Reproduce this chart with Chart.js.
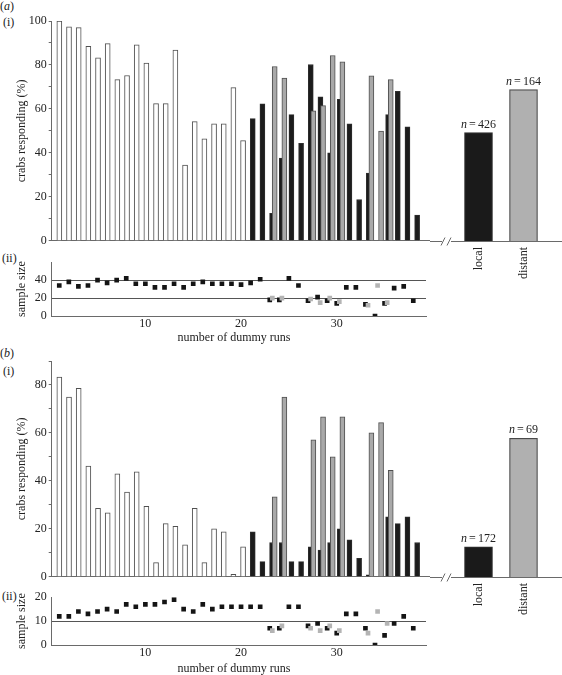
<!DOCTYPE html>
<html>
<head>
<meta charset="utf-8">
<script src="https://cdn.jsdelivr.net/npm/chart.js@4.4.1/dist/chart.umd.min.js"></script>
<style>
body{margin:0;background:#fff;width:562px;height:675px;position:relative;overflow:hidden;font-family:"Liberation Serif",serif;color:#222}
canvas{position:absolute}
.lab{position:absolute;font-size:12px;line-height:12px;white-space:nowrap}
.xt{position:absolute;left:134px;width:200px;text-align:center;font-size:12px;line-height:12px}
</style>
</head>
<body>
<div class="lab" style="left:0;top:0">(<i>a</i>)</div>
<div class="lab" style="left:3px;top:16px">(i)</div>
<div class="lab" style="left:2px;top:252px">(ii)</div>
<div class="lab" style="left:0;top:347px">(<i>b</i>)</div>
<div class="lab" style="left:3px;top:365px">(i)</div>
<div class="lab" style="left:2px;top:590px">(ii)</div>

<canvas id="barsA" style="left:0;top:0" width="430" height="250"></canvas>
<canvas id="sideA" style="left:430px;top:0" width="132" height="286"></canvas>
<canvas id="dotsA" style="left:0;top:250px" width="430" height="96"></canvas>
<div class="xt" style="top:331px">number of dummy runs</div>

<canvas id="barsB" style="left:0;top:340px" width="430" height="246"></canvas>
<canvas id="sideB" style="left:430px;top:340px" width="132" height="282"></canvas>
<canvas id="dotsB" style="left:0;top:585px" width="430" height="90"></canvas>
<div class="xt" style="top:662px">number of dummy runs</div>

<script>
// dummy run number (x axis)
const runs = [1,2,3,4,5,6,7,8,9,10,11,12,13,14,15,16,17,18,19,20,21,22,23,24,25,26,27,28,29,30,31,32,33,34,35,36,37,38];
const runTicks = [10, 20, 30];
const groups = ['local', 'distant'];

// (a) crabs responding (%)
const whiteA = [100,97.4,97,88.5,83.2,89.7,73.3,75.2,89.2,80.8,62.4,62.4,86.8,34.5,54.2,46.4,53.2,53.2,69.7,45.6,
  null,null,null,null,null,null,null,null,null,null,null,null,null,null,null,null,null,null];
const blackA = [null,null,null,null,null,null,null,null,null,null,null,null,null,null,null,null,null,null,null,null,
  55.6,62.3,12.5,37.6,57.4,44.3,80.2,65.5,40.0,64.4,53.2,18.8,30.8,null,57.4,68.0,51.8,11.7];
const greyA = [null,null,null,null,null,null,null,null,null,null,null,null,null,null,null,null,null,null,null,null,null,null,
  79.3,74.0,null,null,59.1,61.5,84.3,81.4,null,null,75.0,49.9,73.3,null,null,null];
// (a) sample size
const sizeBlackA = [34,38,33,34,40,37,40,42,36,36,32,32,36,32,36,38,36,36,36,35,37,41,18,18,42,34,17,21,17,14,32,32,13,0,14,31,33,17];
const sizeGreyA = [null,null,null,null,null,null,null,null,null,null,null,null,null,null,null,null,null,null,null,null,null,null,
  20,20,null,null,19,15,20,16,null,null,12,34,15,null,null,null];
const sideA = [49.3, 68.8];
const nA = [426, 164];

// (b) crabs responding (%)
const whiteB = [83.3,75,78.6,46.2,28.6,26.7,42.9,35.3,43.8,29.4,5.9,22.2,21.1,13.3,28.6,5.9,20,18.8,1,12.5,
  null,null,null,null,null,null,null,null,null,null,null,null,null,null,null,null,null,null];
const blackB = [null,null,null,null,null,null,null,null,null,null,null,null,null,null,null,null,null,null,null,null,
  18.8,6.3,14.3,14.3,6.3,6.3,12.5,11.1,14.3,20,15.4,7.7,0.8,null,25,22.2,25,14.3];
const greyB = [null,null,null,null,null,null,null,null,null,null,null,null,null,null,null,null,null,null,null,null,null,null,
  33.3,75,null,null,57.1,66.7,50,66.7,null,null,60,64.3,44.4,null,null,null];
// (b) sample size
const sizeBlackB = [12,12,14,13,14,15,14,17,16,17,17,18,19,15,14,17,15,16,16,16,16,16,7,7,16,16,8,9,7,5,13,13,7,0,4,9,12,7];
const sizeGreyB = [null,null,null,null,null,null,null,null,null,null,null,null,null,null,null,null,null,null,null,null,null,null,
  6,8,null,null,7,6,8,6,null,null,5,14,9,null,null,null];
const sideB = [12.6, 57.8];
const nB = [172, 69];

const axisCol = '#6a6a6a';
const xMin = 0.21, xMax = 39.33;
const greyShift = 0.27;   // grey marks sit a little right of the black ones
const yAxisW = 51.7;

Chart.defaults.font.family = '"Liberation Serif", "Times New Roman", serif';
Chart.defaults.font.size = 12;
Chart.defaults.color = '#222';

function pts(arr){
	var out = [];
	for (var i = 0; i < runs.length; i++){
		if (arr[i] !== null) out.push({x: runs[i], y: arr[i]});
	}
	return out;
}

function mainBars(id, white, black, grey, ymax){
	new Chart(document.getElementById(id), {
		type: 'bar',
		data: {
			datasets: [
				{data: pts(grey), xAxisID: 'xg', backgroundColor: '#a9a9a9', borderColor: '#505050'},
				{data: pts(black), backgroundColor: '#1c1c1c', borderColor: '#2e2e2e'},
				{data: pts(white), backgroundColor: '#ffffff', borderColor: '#505050'}
			]
		},
		options: {
			responsive: false,
			animation: false,
			layout: {padding: {top: 21, left: 0, right: 0, bottom: 0}},
			plugins: {legend: {display: false}, tooltip: {enabled: false}},
			datasets: {bar: {grouped: false, barThickness: 5, borderWidth: 1}},
			scales: {
				x: {type: 'linear', min: xMin, max: xMax, offset: false,
					ticks: {display: false}, grid: {display: false},
					border: {color: axisCol},
					afterFit: function(s){ s.height = 9; }},
				xg: {type: 'linear', display: false, offset: false, min: xMin - greyShift, max: xMax - greyShift},
				y: {min: 0, max: ymax,
					ticks: {stepSize: 10, padding: 2, callback: function(v){ return v % 20 === 0 ? v : ''; }},
					grid: {drawOnChartArea: false, tickLength: 3, color: axisCol},
					border: {color: axisCol},
					title: {display: true, text: 'crabs responding (%)', padding: {top: 15, bottom: 0}},
					afterFit: function(s){ s.width = yAxisW; }}
			}
		}
	});
}

// base line with the // break, and the n = ... labels
function sidePlugin(ns){
	return {
		id: 'side',
		afterDatasetsDraw: function(chart){
			var ctx = chart.ctx;
			var yb = Math.round(chart.chartArea.bottom) + 0.5;
			ctx.save();
			ctx.strokeStyle = axisCol;
			ctx.lineWidth = 1;
			ctx.beginPath();
			ctx.moveTo(0, yb); ctx.lineTo(12, yb);
			ctx.moveTo(21, yb); ctx.lineTo(chart.width, yb);
			ctx.moveTo(11, yb + 4); ctx.lineTo(15, yb - 4);
			ctx.moveTo(17, yb + 4); ctx.lineTo(21, yb - 4);
			ctx.stroke();

			var meta = chart.getDatasetMeta(0);
			ctx.fillStyle = '#222';
			ctx.textBaseline = 'alphabetic';
			meta.data.forEach(function(bar, i){
				ctx.font = 'italic 12px "Liberation Serif", serif';
				var wn = ctx.measureText('n').width;
				ctx.font = '12px "Liberation Serif", serif';
				var we = ctx.measureText('=').width;
				var wv = ctx.measureText(String(ns[i])).width;
				var total = wn + 2 + we + 2 + wv;
				var x0 = bar.x - total / 2;
				var y0 = bar.y - 5;
				ctx.font = 'italic 12px "Liberation Serif", serif';
				ctx.fillText('n', x0, y0);
				ctx.font = '12px "Liberation Serif", serif';
				ctx.fillText('=', x0 + wn + 2, y0);
				ctx.fillText(String(ns[i]), x0 + wn + 2 + we + 2, y0);
			});
			ctx.restore();
		}
	};
}

function sideBars(id, vals, ns, ymax){
	new Chart(document.getElementById(id), {
		type: 'bar',
		data: {
			labels: groups,
			datasets: [{
				data: vals,
				backgroundColor: ['#1a1a1a', '#b0b0b0'],
				borderColor: ['#2e2e2e', '#4a4a4a'],
				borderWidth: 1.2,
				barThickness: 28
			}]
		},
		options: {
			responsive: false,
			animation: false,
			layout: {padding: {top: 21, left: 26, right: 16, bottom: 0}},
			plugins: {legend: {display: false}, tooltip: {enabled: false}},
			scales: {
				x: {grid: {display: false, drawTicks: false}, border: {display: false},
					ticks: {minRotation: 90, maxRotation: 90, padding: 6},
					afterFit: function(s){ s.height = 45; }},
				y: {display: false, min: 0, max: ymax}
			}
		},
		plugins: [sidePlugin(ns)]
	});
}

function sampleDots(id, black, grey, ymax, step, lines){
	new Chart(document.getElementById(id), {
		type: 'scatter',
		data: {
			datasets: [
				{data: pts(grey), xAxisID: 'xg', backgroundColor: '#b4b4b4'},
				{data: pts(black), backgroundColor: '#141414'}
			]
		},
		options: {
			responsive: false,
			animation: false,
			elements: {point: {pointStyle: 'rect', radius: 3.3, borderWidth: 0}},
			layout: {padding: {top: 7, left: 0, right: 0, bottom: 0}},
			plugins: {legend: {display: false}, tooltip: {enabled: false}},
			scales: {
				x: {type: 'linear', min: xMin, max: xMax, offset: false,
					afterBuildTicks: function(s){ s.ticks = runTicks.map(function(v){ return {value: v}; }); },
					ticks: {padding: 1},
					grid: {display: false, drawTicks: false},
					border: {color: axisCol},
					afterFit: function(s){ s.height = 30; }},
				xg: {type: 'linear', display: false, offset: false, min: xMin - greyShift, max: xMax - greyShift},
				y: {min: 0, max: ymax,
					ticks: {stepSize: step, padding: 5, callback: function(v){ return v <= 40 ? v : ''; }},
					grid: {drawTicks: false, color: function(c){ return lines.indexOf(c.tick.value) >= 0 ? '#555' : 'rgba(0,0,0,0)'; }},
					border: {color: axisCol},
					title: {display: true, text: 'sample size', padding: {top: 15, bottom: 0}},
					afterFit: function(s){ s.width = yAxisW; }}
			}
		}
	});
}

mainBars('barsA', whiteA, blackA, greyA, 100);
sideBars('sideA', sideA, nA, 100);
sampleDots('dotsA', sizeBlackA, sizeGreyA, 60, 20, [20, 40]);

mainBars('barsB', whiteB, blackB, greyB, 90);
sideBars('sideB', sideB, nB, 90);
sampleDots('dotsB', sizeBlackB, sizeGreyB, 20, 10, [10]);
</script>
</body>
</html>
